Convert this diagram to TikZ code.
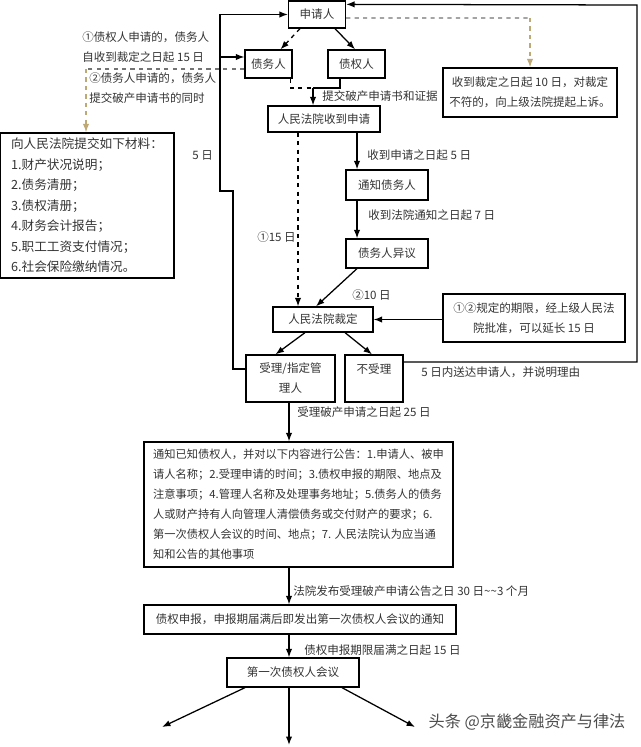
\documentclass[tikz,border=0pt]{standalone}
\usepackage{fontspec}
\setmainfont{Noto Sans CJK SC}
\usetikzlibrary{calc,arrows.meta}
\definecolor{dashtan}{RGB}{190,168,115}

\begin{document}
\begin{tikzpicture}[x=0.025cm,y=-0.025cm,
	every node/.style={font=\fontsize{8.2}{14.2}\selectfont, text=black!80},
	box/.style={draw, line width=0.9pt, inner sep=2pt, align=center},
	boxsize/.style 2 args={minimum width=#1*0.025cm, minimum height=#2*0.025cm},
	line/.style={line width=0.9pt},
	arr/.style={line width=0.9pt, -{Latex[length=6pt,width=4.5pt]}},
	dashline/.style={line width=0.9pt, dashed, draw=black!55},
	note/.style={inner sep=0pt}]
	\useasboundingbox (0,0) rectangle (640,747);

	% boxes
	\node[box, boxsize={57}{27}] (sqr) at (317,14.5) {申请人};
	\node[box, boxsize={47}{28}] (zwr) at (268.5,64) {债务人};
	\node[box, boxsize={57}{28}] (zqr) at (356.5,64) {债权人};
	\node[box, boxsize={112}{26}] (shoudao) at (324,119) {人民法院收到申请};
	\node[box, boxsize={82}{30}] (tongzhi) at (387,185) {通知债务人};
	\node[box, boxsize={82}{29}] (yiyi) at (387,253.5) {债务人异议};
	\node[box, boxsize={100}{25}] (caiding) at (323,319.5) {人民法院裁定};
	\node[box, boxsize={89}{47}] (shouli) at (290.5,378.5) {受理/指定管\\理人};
	\node[box, boxsize={58}{47}] (bushouli) at (374,378.5) {不受理\\\mbox{}};
	\node[box, boxsize={174}{49}] (shangsu) at (530,92.5) {收到裁定之日起 10 日，对裁定\\不符的，向上级法院提起上诉。};
	\node[box, boxsize={182}{48}] (yanchang) at (534,318) {①②规定的期限，经上级人民法\\院批准，可以延长 15 日};
	\node[box, boxsize={174}{145}, align=left, font=\fontsize{9}{14.6}\selectfont] (cailiao) at (87,205.5) {向人民法院提交如下材料：\\1.财产状况说明；\\2.债务清册；\\3.债权清册；\\4.财务会计报告；\\5.职工工资支付情况；\\6.社会保险缴纳情况。};
	\node[box, boxsize={309}{125}, align=left, font=\fontsize{8}{14.2}\selectfont] (gonggao) at (298.5,504.5) {通知已知债权人，并对以下内容进行公告：1.申请人、被申\\请人名称；2.受理申请的时间；3.债权申报的期限、地点及\\注意事项；4.管理人名称及处理事务地址；5.债务人的债务\\人或财产持有人向管理人清偿债务或交付财产的要求；6.\\第一次债权人会议的时间、地点；7. 人民法院认为应当通\\知和公告的其他事项};
	\node[box, boxsize={312}{29}] (shenbao) at (300,619.5) {债权申报，申报期届满后即发出第一次债权人会议的通知};
	\node[box, boxsize={132}{29}] (huiyi) at (293,672.5) {第一次债权人会议};

	% labels
	\node[note, anchor=north west, align=left] (tiaojian1) at (82,31) {①债权人申请的，债务人\\自收到裁定之日起 15 日};
	\node[note, anchor=north west, align=left] (tiaojian2) at (89,72) {②债务人申请的，债务人\\提交破产申请书的同时};
	\node[note, anchor=west] (ltijiao) at (322,96) {提交破产申请书和证据};
	\node[note, anchor=west] (lwuri) at (192,155) {5 日};
	\node[note, anchor=west] (lshoudao) at (367,155) {收到申请之日起 5 日};
	\node[note, anchor=west] (ltongzhi) at (368,215) {收到法院通知之日起 7 日};
	\node[note, anchor=east] (lshiwu) at (296,237) {①15 日};
	\node[note, anchor=west] (lshi) at (352,295) {②10 日};
	\node[note, anchor=west] (lsongda) at (421,372) {5 日内送达申请人，并说明理由};
	\node[note, anchor=west] (lshouli) at (297,412) {受理破产申请之日起 25 日};
	\node[note, anchor=west] (lgonggao) at (293,591) {法院发布受理破产申请公告之日 30 日\textasciitilde\textasciitilde 3 个月};
	\node[note, anchor=west] (lshenbao) at (304,650) {债权申报期限届满之日起 15 日};
	\node[font=\fontsize{11.5}{14}\selectfont, text=black!70] (shuiyin) at (527,722) {头条 @京畿金融资产与律法};

	% left and right loops back to 申请人
	\coordinate (lk) at (220,191);
	\draw[arr] ($(shouli.west)+(0,-9.5)$) -| (233,191) -- (lk) |- (sqr.west);
	\draw[arr] (lk |- 0,57) -- ($(zwr.west)+(0,-7)$);
	\draw[arr] ($(bushouli.east)+(0,-16.5)$) -| (637,5) -- ($(sqr.north east)+(0,4)$);

	% dashed to the side boxes
	\coordinate (sk) at (530,18);
	\draw[dashline] ($(sqr.east)+(0,3.5)$) -- (sk);
	\draw[dashline, draw=dashtan, -{Latex[length=6pt,width=4.5pt]}] (sk) -- (shangsu.north);
	\coordinate (dk) at (86,69);
	\draw[dashline] ($(zwr.west)+(0,5)$) -- (dk);
	\draw[dashline, draw=dashtan, -{Latex[length=6pt,width=4.5pt]}] (dk) -- (dk |- cailiao.north);

	% top part
	\draw[dashline, draw=black, -{Latex[length=6pt,width=4.5pt]}] ($(sqr.south)+(-17,0)$) -- ($(zwr.north)+(12,0)$);
	\draw[arr] ($(sqr.south)+(18,0)$) -- ($(zqr.north)+(-1.5,0)$);
	\coordinate (mg) at (313,88);
	\draw[line] ($(zqr.south)+(-16.5,0)$) |- (mg);
	\draw[dashline, draw=black] ($(zwr.south east)+(-2,0)$) |- (mg);
	\draw[arr] (mg) -- (mg |- shoudao.north);

	% middle part
	\coordinate (c357) at (357,0);
	\draw[arr] (shoudao.south -| c357) -- (tongzhi.north -| c357);
	\draw[arr] (tongzhi.south -| c357) -- (yiyi.north -| c357);
	\draw[dashline, draw=black, -{Latex[length=6pt,width=4.5pt]}] ($(shoudao.south)+(-26,0)$) -- ($(caiding.north)+(-25,0)$);
	\draw[arr] (yiyi.south -| c357) -- ($(caiding.north)+(-7,0)$);
	\draw[arr] (yanchang.west |- caiding.east) -- (caiding.east);
	\draw[arr] ($(caiding.south)+(-18,0)$) -- ($(shouli.north)+(-15,0)$);
	\draw[arr] ($(caiding.south)+(22,0)$) -- ($(bushouli.north)+(-2,0)$);

	% bottom part
	\coordinate (zhou) at (289,0);
	\draw[arr] (shouli.south -| zhou) -- (gonggao.north -| zhou);
	\draw[arr] (gonggao.south -| zhou) -- (shenbao.north -| zhou);
	\draw[arr] (shenbao.south -| zhou) -- (huiyi.north -| zhou);
	\coordinate (zuo) at (162,727);
	\coordinate (xia) at (289,745);
	\coordinate (you) at (415,727);
	\draw[arr] ($(huiyi.south)+(-48,0)$) -- (zuo);
	\draw[arr] (huiyi.south -| zhou) -- (xia);
	\draw[arr] ($(huiyi.south)+(49,0)$) -- (you);
\end{tikzpicture}
\end{document}
